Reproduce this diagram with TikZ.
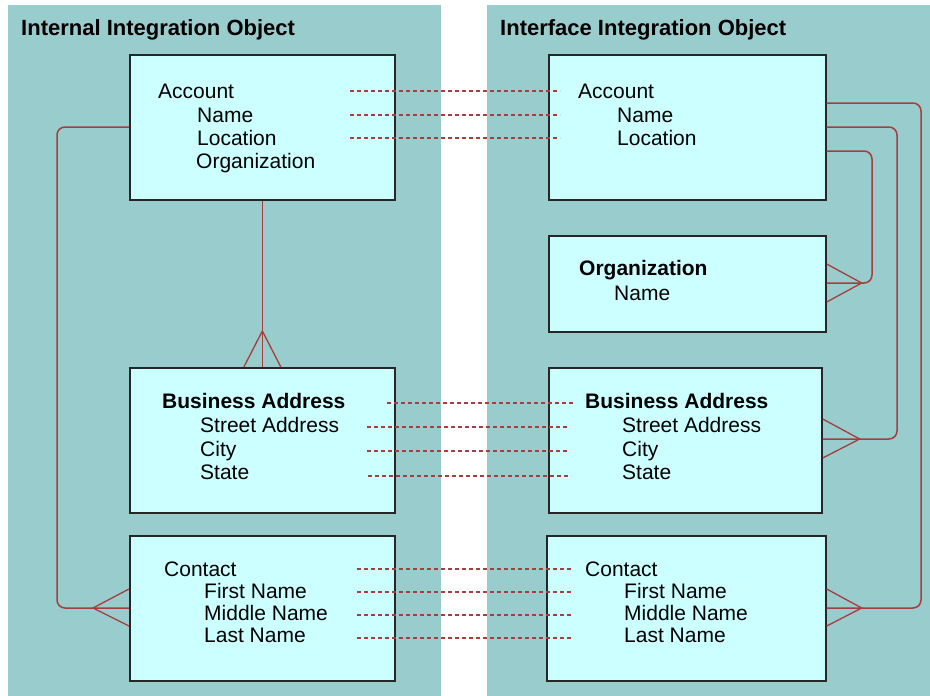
\documentclass[tikz,border=0pt]{standalone}
\usepackage{fontspec}
\setmainfont{Liberation Sans}
\usetikzlibrary{calc}
\definecolor{panel}{RGB}{153,204,204}
\definecolor{boxfill}{RGB}{204,255,255}
\definecolor{conn}{RGB}{165,62,62}
\begin{document}
\begin{tikzpicture}[x=1pt,y=-1pt,
  entity/.style={draw=black!85,line width=1.7pt,fill=boxfill,rectangle,inner sep=0pt,anchor=north west},
  lbl/.style={anchor=base west,inner sep=0pt,font=\fontsize{21}{24}\selectfont},
  hdr/.style={anchor=base west,inner sep=0pt,font=\fontsize{21}{24}\selectfont\bfseries},
  ttl/.style={anchor=base west,inner sep=0pt,font=\fontsize{22}{24}\selectfont\bfseries},
  rel/.style={draw=conn,line width=1.5pt,rounded corners=8pt},
  crow/.style={draw=conn,line width=1.3pt},
  map/.style={draw=conn,line width=1.4pt,dash pattern=on 4pt off 3pt}]
\useasboundingbox (0,0) rectangle (930,696);
\fill[white] (0,0) rectangle (930,696);
% panels
\fill[panel] (8,5) rectangle (441,696);
\fill[panel] (487,5) rectangle (930,696);
\node[ttl] (titleL) at (21,35) {Internal Integration Object};
\node[ttl] (titleR) at (500,35) {Interface Integration Object};
% boxes left
\node[entity,minimum width=265pt,minimum height=145pt] (accL) at (129,54) {};
\node[entity,minimum width=265pt,minimum height=145pt] (busL) at (129,367) {};
\node[entity,minimum width=265pt,minimum height=145pt] (conL) at (129,535) {};
% boxes right
\node[entity,minimum width=277pt,minimum height=145pt] (accR) at (548,54) {};
\node[entity,minimum width=277pt,minimum height=96pt] (orgR) at (548,235) {};
\node[entity,minimum width=273pt,minimum height=145pt] (busR) at (548,367) {};
\node[entity,minimum width=279pt,minimum height=145pt] (conR) at (546,535) {};
% texts left
\node[lbl] (tAccL) at (158,98) {Account};
\node[lbl] (tAccL1) at (197,122) {Name};
\node[lbl] (tAccL2) at (197,145) {Location};
\node[lbl] (tAccL3) at (196,168) {Organization};
\node[hdr] (tBusL) at (162,408) {Business Address};
\node[lbl] (tBusL1) at (200,432) {Street Address};
\node[lbl] (tBusL2) at (200,456) {City};
\node[lbl] (tBusL3) at (200,479) {State};
\node[lbl] (tConL) at (164,576) {Contact};
\node[lbl] (tConL1) at (204,598) {First Name};
\node[lbl] (tConL2) at (204,620) {Middle Name};
\node[lbl] (tConL3) at (204,642) {Last Name};
% texts right
\node[lbl] (tAccR) at (578,98) {Account};
\node[lbl] (tAccR1) at (617,122) {Name};
\node[lbl] (tAccR2) at (617,145) {Location};
\node[hdr] (tOrgR) at (579,275) {Organization};
\node[lbl] (tOrgR1) at (614,300) {Name};
\node[hdr] (tBusR) at (585,408) {Business Address};
\node[lbl] (tBusR1) at (622,432) {Street Address};
\node[lbl] (tBusR2) at (622,456) {City};
\node[lbl] (tBusR3) at (622,479) {State};
\node[lbl] (tConR) at (585,576) {Contact};
\node[lbl] (tConR1) at (624,598) {First Name};
\node[lbl] (tConR2) at (624,620) {Middle Name};
\node[lbl] (tConR3) at (624,642) {Last Name};
% relation: Account -> Contact (left)
\coordinate (lA) at ($(accL.north west)+(0,73)$);
\coordinate (lC) at ($(conL.north west)+(0,73)$);
\coordinate (lCa) at ($(lC)+(-36,0)$);
\draw[rel] (lA) -- (57,127) -- (57,608) -- (lC);
\draw[crow] ($(conL.north west)+(0,54)$) -- (lCa) -- ($(conL.north west)+(0,91)$);
% relation: Account -> Business Address (left)
\coordinate (vA) at (accL.south);
\coordinate (vB) at (busL.north);
\coordinate (vBa) at ($(vB)+(0,-36)$);
\draw[rel] (vA) -- (vB);
\draw[crow] ($(vB)+(-18.5,0)$) -- (vBa) -- ($(vB)+(18.5,0)$);
% relation R1: Account -> Contact (right)
\coordinate (r1a) at ($(accR.north east)+(0,49)$);
\coordinate (r1b) at ($(conR.north east)+(0,73)$);
\coordinate (r1c) at ($(r1b)+(35,0)$);
\draw[rel] (r1a) -- (921,103) -- (921,608) -- (r1b);
\draw[crow] ($(conR.north east)+(0,54)$) -- (r1c) -- ($(conR.north east)+(0,91)$);
% relation R2: Account -> Business Address (right)
\coordinate (r2a) at ($(accR.north east)+(0,73)$);
\coordinate (r2b) at ($(busR.north east)+(0,72)$);
\coordinate (r2c) at ($(r2b)+(37,0)$);
\draw[rel] (r2a) -- (897,127) -- (897,439) -- (r2b);
\draw[crow] ($(busR.north east)+(0,52)$) -- (r2c) -- ($(busR.north east)+(0,91)$);
% relation R3: Account -> Organization (right)
\coordinate (r3a) at ($(accR.north east)+(0,97)$);
\coordinate (r3b) at ($(orgR.north east)+(0,48)$);
\coordinate (r3c) at ($(r3b)+(35,0)$);
\draw[rel] (r3a) -- (872,151) -- (872,283) -- (r3b);
\draw[crow] ($(orgR.north east)+(0,29)$) -- (r3c) -- ($(orgR.north east)+(0,67)$);
% mappings
\coordinate (m1a) at (350,91);  \coordinate (m1b) at (560,91);
\coordinate (m2a) at (350,115); \coordinate (m2b) at (560,115);
\coordinate (m3a) at (350,138); \coordinate (m3b) at (560,138);
\coordinate (m4a) at (387,403); \coordinate (m4b) at (573,403);
\coordinate (m5a) at (367,427); \coordinate (m5b) at (569,427);
\coordinate (m6a) at (367,451); \coordinate (m6b) at (569,451);
\coordinate (m7a) at (368,476); \coordinate (m7b) at (571,476);
\coordinate (m8a) at (357,569); \coordinate (m8b) at (573,569);
\coordinate (m9a) at (357,592); \coordinate (m9b) at (573,592);
\coordinate (m10a) at (357,615); \coordinate (m10b) at (573,615);
\coordinate (m11a) at (357,638); \coordinate (m11b) at (573,638);
\foreach \i in {1,...,11} { \draw[map] (m\i a) -- (m\i b); }
\end{tikzpicture}
\end{document}
